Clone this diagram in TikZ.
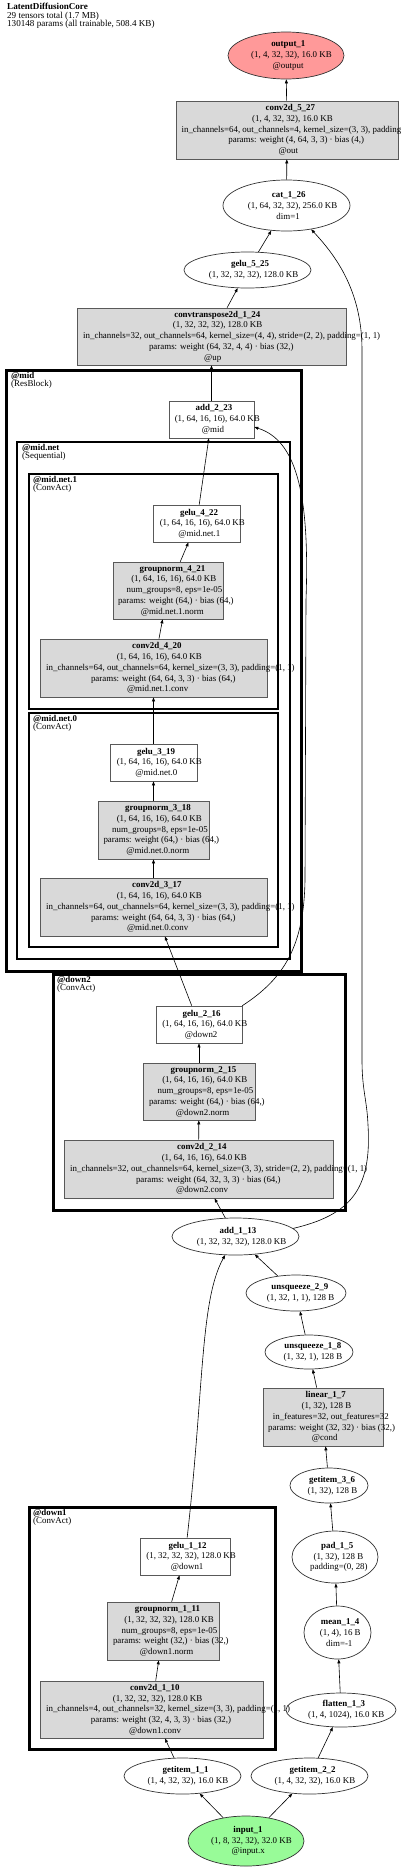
\documentclass[tikz,border=0pt]{standalone}
\usepackage{fontspec}
\setmainfont{Liberation Serif}
\usetikzlibrary{arrows.meta,shapes.geometric}
\definecolor{opgray}{RGB}{217,217,217}
\definecolor{outred}{RGB}{255,153,153}
\definecolor{ingreen}{RGB}{152,251,152}
\newcommand{\nodefont}{\fontsize{8.9}{10.75}\selectfont}
\newcommand{\titlefont}{\fontsize{9.1}{8.4}\selectfont}
\newcommand{\clusfont}{\fontsize{8.9}{8}\selectfont}
% one label line, set a little right of centre as in the drawing
\newlength{\glw}
\newcommand{\gl}[1]{\settowidth{\glw}{#1}\hspace*{0.136\glw}#1}
\tikzset{
  edge/.style={->, >={Triangle[length=4pt,width=3pt]}, line width=0.6pt},
  txt/.style={font=\nodefont, align=center, inner sep=0pt},
  opbox/.style={rectangle, draw=black!65, line width=0.7pt, fill=opgray, inner sep=0pt},
  plainbox/.style={rectangle, draw=black!65, line width=0.7pt, fill=white, inner sep=0pt},
  oval/.style={ellipse, draw=black!80, line width=0.7pt, inner sep=0pt},
  clusterA/.style={rectangle, draw, line width=3pt, inner sep=0pt},
  clusterB/.style={rectangle, draw, line width=2pt, inner sep=0pt},
  clab/.style={font=\clusfont, align=left, anchor=north west, inner sep=0pt},
}
\begin{document}
\begin{tikzpicture}[x=1pt,y=-1pt]
\useasboundingbox (0,0) rectangle (400,1869);
% Header
\node[anchor=north west, font=\titlefont, align=left, inner sep=0pt] (title) at (7,3)
  {\textbf{LatentDiffusionCore}\\29 tensors total (1.7 MB)\\130148 params (all trainable, 508.4 KB)};
% Clusters
\node[clusterA, minimum width=295pt, minimum height=601pt] (mid) at (153.5,670.5) {};
\node[clab] (midlab) at (11,372) {\textbf{@mid}\\(ResBlock)};
\node[clusterB, minimum width=273pt, minimum height=517pt] (midnet) at (153.5,700.5) {};
\node[clab] (midnetlab) at (22,444) {\textbf{@mid.net}\\(Sequential)};
\node[clusterB, minimum width=249pt, minimum height=235pt] (midnetone) at (153.5,591.5) {};
\node[clab] (midnetonelab) at (33,476) {\textbf{@mid.net.1}\\(ConvAct)};
\node[clusterB, minimum width=249pt, minimum height=234pt] (midnetzero) at (153.5,830) {};
\node[clab] (midnetzerolab) at (33,715) {\textbf{@mid.net.0}\\(ConvAct)};
\node[clusterA, minimum width=292pt, minimum height=236pt] (down2) at (199,1092) {};
\node[clab] (down2lab) at (57,976) {\textbf{@down2}\\(ConvAct)};
\node[clusterA, minimum width=246pt, minimum height=242pt] (down1) at (152,1628) {};
\node[clab] (down1lab) at (33,1509) {\textbf{@down1}\\(ConvAct)};
% Top: output and up path
\node[oval, fill=outred, minimum width=116pt, minimum height=47pt,
  label={[txt]center:{\gl{\textbf{output\_1}}\\\gl{(1, 4, 32, 32), 16.0 KB}\\\gl{@output}}}] (out1) at (286,55.5) {};
\node[opbox, minimum width=222pt, minimum height=58pt,
  label={[txt]center:{\gl{\textbf{conv2d\_5\_27}}\\\gl{(1, 4, 32, 32), 16.0 KB}\\\gl{in\_channels=64, out\_channels=4, kernel\_size=(3, 3), padding=(1, 1)}\\\gl{params: weight (4, 64, 3, 3) · bias (4,)}\\\gl{@out}}}] (conv527) at (287,130) {};
\node[oval, minimum width=127pt, minimum height=51pt,
  label={[txt]center:{\gl{\textbf{cat\_1\_26}}\\\gl{(1, 64, 32, 32), 256.0 KB}\\\gl{dim=1}}}] (cat126) at (286.5,205.5) {};
\node[oval, minimum width=127pt, minimum height=36pt,
  label={[txt]center:{\gl{\textbf{gelu\_5\_25}}\\\gl{(1, 32, 32, 32), 128.0 KB}}}] (gelu525) at (247.5,270) {};
\node[opbox, minimum width=269pt, minimum height=57pt,
  label={[txt]center:{\gl{\textbf{convtranspose2d\_1\_24}}\\\gl{(1, 32, 32, 32), 128.0 KB}\\\gl{in\_channels=32, out\_channels=64, kernel\_size=(4, 4), stride=(2, 2), padding=(1, 1)}\\\gl{params: weight (64, 32, 4, 4) · bias (32,)}\\\gl{@up}}}] (convt124) at (211.5,336.5) {};
% @mid block
\node[plainbox, minimum width=85pt, minimum height=37pt,
  label={[txt]center:{\gl{\textbf{add\_2\_23}}\\\gl{(1, 64, 16, 16), 64.0 KB}\\\gl{@mid}}}] (add223) at (211.5,419.5) {};
\node[plainbox, minimum width=87pt, minimum height=37pt,
  label={[txt]center:{\gl{\textbf{gelu\_4\_22}}\\\gl{(1, 64, 16, 16), 64.0 KB}\\\gl{@mid.net.1}}}] (gelu422) at (196.5,523.5) {};
\node[opbox, minimum width=110pt, minimum height=57pt,
  label={[txt]center:{\gl{\textbf{groupnorm\_4\_21}}\\\gl{(1, 64, 16, 16), 64.0 KB}\\\gl{num\_groups=8, eps=1e-05}\\\gl{params: weight (64,) · bias (64,)}\\\gl{@mid.net.1.norm}}}] (gn421) at (168,590.5) {};
\node[opbox, minimum width=227pt, minimum height=58pt,
  label={[txt]center:{\gl{\textbf{conv2d\_4\_20}}\\\gl{(1, 64, 16, 16), 64.0 KB}\\\gl{in\_channels=64, out\_channels=64, kernel\_size=(3, 3), padding=(1, 1)}\\\gl{params: weight (64, 64, 3, 3) · bias (64,)}\\\gl{@mid.net.1.conv}}}] (conv420) at (153.5,668) {};
\node[plainbox, minimum width=87pt, minimum height=37pt,
  label={[txt]center:{\gl{\textbf{gelu\_3\_19}}\\\gl{(1, 64, 16, 16), 64.0 KB}\\\gl{@mid.net.0}}}] (gelu319) at (153.5,762.5) {};
\node[opbox, minimum width=111pt, minimum height=58pt,
  label={[txt]center:{\gl{\textbf{groupnorm\_3\_18}}\\\gl{(1, 64, 16, 16), 64.0 KB}\\\gl{num\_groups=8, eps=1e-05}\\\gl{params: weight (64,) · bias (64,)}\\\gl{@mid.net.0.norm}}}] (gn318) at (153.5,830) {};
\node[opbox, minimum width=227pt, minimum height=58pt,
  label={[txt]center:{\gl{\textbf{conv2d\_3\_17}}\\\gl{(1, 64, 16, 16), 64.0 KB}\\\gl{in\_channels=64, out\_channels=64, kernel\_size=(3, 3), padding=(1, 1)}\\\gl{params: weight (64, 64, 3, 3) · bias (64,)}\\\gl{@mid.net.0.conv}}}] (conv317) at (153.5,907) {};
% @down2 block
\node[plainbox, minimum width=86pt, minimum height=37pt,
  label={[txt]center:{\gl{\textbf{gelu\_2\_16}}\\\gl{(1, 64, 16, 16), 64.0 KB}\\\gl{@down2}}}] (gelu216) at (199,1024.5) {};
\node[opbox, minimum width=112pt, minimum height=57pt,
  label={[txt]center:{\gl{\textbf{groupnorm\_2\_15}}\\\gl{(1, 64, 16, 16), 64.0 KB}\\\gl{num\_groups=8, eps=1e-05}\\\gl{params: weight (64,) · bias (64,)}\\\gl{@down2.norm}}}] (gn215) at (199,1091.5) {};
\node[opbox, minimum width=269pt, minimum height=58pt,
  label={[txt]center:{\gl{\textbf{conv2d\_2\_14}}\\\gl{(1, 64, 16, 16), 64.0 KB}\\\gl{in\_channels=32, out\_channels=64, kernel\_size=(3, 3), stride=(2, 2), padding=(1, 1)}\\\gl{params: weight (64, 32, 3, 3) · bias (64,)}\\\gl{@down2.conv}}}] (conv214) at (198.5,1169) {};
\node[oval, minimum width=127pt, minimum height=37pt,
  label={[txt]center:{\gl{\textbf{add\_1\_13}}\\\gl{(1, 32, 32, 32), 128.0 KB}}}] (add113) at (235.5,1236.5) {};
% Conditioning branch
\node[oval, minimum width=100pt, minimum height=36pt,
  label={[txt]center:{\gl{\textbf{unsqueeze\_2\_9}}\\\gl{(1, 32, 1, 1), 128 B}}}] (unsq29) at (296,1293) {};
\node[oval, minimum width=88pt, minimum height=34pt,
  label={[txt]center:{\gl{\textbf{unsqueeze\_1\_8}}\\\gl{(1, 32, 1), 128 B}}}] (unsq18) at (309,1352) {};
\node[opbox, minimum width=120pt, minimum height=58pt,
  label={[txt]center:{\gl{\textbf{linear\_1\_7}}\\\gl{(1, 32), 128 B}\\\gl{in\_features=32, out\_features=32}\\\gl{params: weight (32, 32) · bias (32,)}\\\gl{@cond}}}] (lin17) at (323,1417) {};
\node[oval, minimum width=78pt, minimum height=35pt,
  label={[txt]center:{\gl{\textbf{getitem\_3\_6}}\\\gl{(1, 32), 128 B}}}] (get36) at (329,1485.5) {};
\node[oval, minimum width=86pt, minimum height=52pt,
  label={[txt]center:{\gl{\textbf{pad\_1\_5}}\\\gl{(1, 32), 128 B}\\\gl{padding=(0, 28)}}}] (pad15) at (335,1557) {};
\node[oval, minimum width=67pt, minimum height=53pt,
  label={[txt]center:{\gl{\textbf{mean\_1\_4}}\\\gl{(1, 4), 16 B}\\\gl{dim=-1}}}] (mean14) at (337.5,1632.5) {};
\node[oval, minimum width=110pt, minimum height=34pt,
  label={[txt]center:{\gl{\textbf{flatten\_1\_3}}\\\gl{(1, 4, 1024), 16.0 KB}}}] (flat13) at (341,1710) {};
% @down1 block
\node[plainbox, minimum width=90pt, minimum height=37pt,
  label={[txt]center:{\gl{\textbf{gelu\_1\_12}}\\\gl{(1, 32, 32, 32), 128.0 KB}\\\gl{@down1}}}] (gelu112) at (185,1556.5) {};
\node[opbox, minimum width=112pt, minimum height=58pt,
  label={[txt]center:{\gl{\textbf{groupnorm\_1\_11}}\\\gl{(1, 32, 32, 32), 128.0 KB}\\\gl{num\_groups=8, eps=1e-05}\\\gl{params: weight (32,) · bias (32,)}\\\gl{@down1.norm}}}] (gn111) at (163,1631) {};
\node[opbox, minimum width=223pt, minimum height=57pt,
  label={[txt]center:{\gl{\textbf{conv2d\_1\_10}}\\\gl{(1, 32, 32, 32), 128.0 KB}\\\gl{in\_channels=4, out\_channels=32, kernel\_size=(3, 3), padding=(1, 1)}\\\gl{params: weight (32, 4, 3, 3) · bias (32,)}\\\gl{@down1.conv}}}] (conv110) at (151.5,1709.5) {};
% Inputs
\node[oval, minimum width=117pt, minimum height=36pt,
  label={[txt]center:{\gl{\textbf{getitem\_1\_1}}\\\gl{(1, 4, 32, 32), 16.0 KB}}}] (get11) at (182.5,1776) {};
\node[oval, minimum width=117pt, minimum height=36pt,
  label={[txt]center:{\gl{\textbf{getitem\_2\_2}}\\\gl{(1, 4, 32, 32), 16.0 KB}}}] (get22) at (309.5,1776) {};
\node[oval, fill=ingreen, minimum width=116pt, minimum height=50pt,
  label={[txt]center:{\gl{\textbf{input\_1}}\\\gl{(1, 8, 32, 32), 32.0 KB}\\\gl{@input.x}}}] (in1) at (246,1841) {};
% Edges
\draw[edge] (conv527) -- (out1);
\draw[edge] (cat126) -- (conv527);
\draw[edge] (gelu525) -- (cat126);
\draw[edge] (convt124) -- (gelu525);
\draw[edge] (add223) -- (convt124);
\draw[edge] (gelu422) -- (add223);
\draw[edge] (gn421) -- (gelu422);
\draw[edge] (conv420) -- (gn421);
\draw[edge] (gelu319) -- (conv420);
\draw[edge] (gn318) -- (gelu319);
\draw[edge] (conv317) -- (gn318);
\draw[edge] (gelu216) -- (conv317);
\draw[edge] (gn215) -- (gelu216);
\draw[edge] (conv214) -- (gn215);
\draw[edge] (add113) -- (conv214);
\draw[edge] (unsq29) -- (add113);
\draw[edge] (unsq18) -- (unsq29);
\draw[edge] (lin17) -- (unsq18);
\draw[edge] (get36) -- (lin17);
\draw[edge] (pad15) -- (get36);
\draw[edge] (mean14) -- (pad15);
\draw[edge] (flat13) -- (mean14);
\draw[edge] (get22) -- (flat13);
\draw[edge] (gn111) -- (gelu112);
\draw[edge] (conv110) -- (gn111);
\draw[edge] (get11) -- (conv110);
\draw[edge] (in1) -- (get11);
\draw[edge] (in1) -- (get22);
% Skip connections
\draw[edge] (gelu112) .. controls (204,1390) and (200,1300) .. (add113);
\draw[edge] (gelu216.north east) .. controls (285,978) and (304,945) .. (305,880)
  -- (306,600) .. controls (310,490) and (295,440) .. (add223.-10);
\draw[edge] (add113.8) .. controls (350,1215) and (372,1190) .. (368,1125)
  .. controls (367,1100) and (362,1090) .. (362,1060) -- (362,350)
  .. controls (362,290) and (335,255) .. (cat126.-44);
\end{tikzpicture}
\end{document}
